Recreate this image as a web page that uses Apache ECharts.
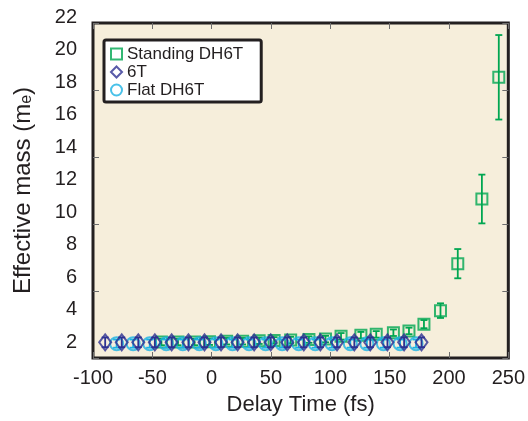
<!DOCTYPE html>
<html><head><meta charset="utf-8">
<script src="https://cdn.jsdelivr.net/npm/echarts@6/dist/echarts.min.js"></script>
<style>html,body{margin:0;padding:0;background:#fff}#c{width:528px;height:421px}</style>
</head><body><div id="c"></div>
<script>
// ---- data ----
const standingX = [-43.8, -30.2, -16.6, -4.3, 9.8, 22.9, 36.5, 48.8, 62.4, 77.4, 91.0, 103.8, 120.1, 132.7, 146.8, 159.6, 171.9, 185.5, 199.7, 219.5, 233.4];
const standingY = [2.0, 2.0, 2.0, 2.02, 2.05, 2.05, 2.08, 2.1, 2.12, 2.15, 2.18, 2.35, 2.42, 2.47, 2.57, 2.68, 3.1, 3.93, 6.82, 10.8, 18.29];
const standingErr = [0.2, 0.2, 0.2, 0.2, 0.2, 0.2, 0.2, 0.2, 0.2, 0.2, 0.2, 0.2, 0.2, 0.2, 0.2, 0.2, 0.25, 0.45, 0.9, 1.5, 2.6];

const t6X = [-90.0, -76.4, -62.8, -49.2, -35.4, -21.6, -8.4, 5.2, 18.8, 32.4, 46.0, 59.6, 73.2, 86.8, 100.5, 114.7, 127.8, 141.9, 155.6, 169.9];
const t6Y = [1.98, 1.98, 1.98, 1.98, 1.98, 1.98, 1.98, 1.98, 1.98, 1.98, 1.98, 1.98, 1.98, 1.98, 1.98, 1.98, 1.98, 1.98, 1.98, 1.98];
const t6Err = [0.3, 0.3, 0.3, 0.3, 0.3, 0.3, 0.3, 0.3, 0.3, 0.3, 0.3, 0.3, 0.3, 0.3, 0.3, 0.3, 0.3, 0.3, 0.3, 0.3];

const flatX = [-80.6, -67.0, -53.4, -39.8, -26.2, -12.6, 1.0, 14.6, 28.2, 41.8, 55.4, 69.0, 82.6, 96.4, 111.4, 125.0, 138.6, 152.3, 165.4];
const flatY = [1.9, 1.9, 1.9, 1.9, 1.9, 1.9, 1.9, 1.9, 1.9, 1.9, 1.9, 1.9, 1.9, 1.9, 1.9, 1.9, 1.9, 1.9, 1.9];
const flatErr = [0.25, 0.25, 0.25, 0.25, 0.25, 0.25, 0.25, 0.25, 0.25, 0.25, 0.25, 0.25, 0.25, 0.25, 0.25, 0.25, 0.25, 0.25, 0.25];

const xMin = -100, xMax = 250, xStep = 50;
const yLabelMin = 2, yLabelMax = 22, yLabelStep = 2;

const names = ['Standing DH6T', '6T', 'Flat DH6T'];
const colors = ['#00a651', '#2e3192', '#1ab2e4'];
const FONT = '"Liberation Sans", Arial, Helvetica, sans-serif';
const INK = '#231f20';

function pairs(xs, ys) { return xs.map((x, i) => [x, ys[i]]); }
function errSeries(xs, ys, errs, color, z) {
  return {
    type: 'custom', xAxisIndex: 1, yAxisIndex: 1, z: z, silent: true, clip: false,
    data: xs.map((x, i) => [x, ys[i] - errs[i], ys[i] + errs[i]]),
    encode: { x: 0, y: [1, 2] },
    renderItem: function (params, api) {
      const lo = api.coord([api.value(0), api.value(1)]);
      const hi = api.coord([api.value(0), api.value(2)]);
      const w = 3.5;
      const st = { stroke: color, lineWidth: 1.8 };
      return { type: 'group', children: [
        { type: 'line', shape: { x1: lo[0], y1: lo[1], x2: hi[0], y2: hi[1] }, style: st },
        { type: 'line', shape: { x1: lo[0] - w, y1: lo[1], x2: lo[0] + w, y2: lo[1] }, style: st },
        { type: 'line', shape: { x1: hi[0] - w, y1: hi[1], x2: hi[0] + w, y2: hi[1] }, style: st }
      ]};
    }
  };
}
function tickStyle() { return { show: true, inside: true, length: 6, lineStyle: { color: '#6d6d6d', width: 1 } }; }

const chart = echarts.init(document.getElementById('c'), null, { renderer: 'canvas' });
chart.setOption({
  animation: false,
  backgroundColor: '#ffffff',
  textStyle: { fontFamily: FONT, color: INK },
  grid: [
    { left: 93, right: 9, top: 23, bottom: 61, show: true, z: 0, backgroundColor: '#f6eedb', borderColor: INK, borderWidth: 3 },
    { left: 93, right: 9, top: 17, bottom: 79, show: false }
  ],
  xAxis: [
    { gridIndex: 0, type: 'value', z: 10, min: xMin, max: xMax, interval: xStep, position: 'bottom',
      axisLine: { show: false, onZero: false }, splitLine: { show: false }, axisTick: tickStyle(),
      axisLabel: { fontSize: 20, color: INK, margin: 10, fontFamily: FONT },
      name: 'Delay Time (fs)', nameLocation: 'middle', nameGap: 36,
      nameTextStyle: { fontSize: 22, color: INK, fontFamily: FONT } },
    { gridIndex: 1, type: 'value', min: xMin, max: xMax, show: false },
    { gridIndex: 0, type: 'value', z: 10, min: xMin, max: xMax, interval: xStep, position: 'top',
      axisLine: { show: false, onZero: false }, splitLine: { show: false }, axisLabel: { show: false },
      axisTick: tickStyle() }
  ],
  yAxis: [
    { gridIndex: 0, type: 'value', z: 10, min: 0, max: 5, interval: 1, position: 'left',
      axisLine: { show: false, onZero: false }, splitLine: { show: false }, axisLabel: { show: false },
      axisTick: tickStyle(),
      name: 'Effective mass (m{sub|e})', nameLocation: 'middle', nameGap: 58, nameRotate: 90,
      nameTextStyle: { fontSize: 24, color: INK, fontFamily: FONT,
        rich: { sub: { fontSize: 16, color: INK, fontFamily: FONT, verticalAlign: 'bottom', padding: [8, 0, 0, 0] } } } },
    { gridIndex: 1, type: 'value', min: yLabelMin, max: yLabelMax, interval: yLabelStep, position: 'left',
      axisLine: { show: false, onZero: false }, axisTick: { show: false }, splitLine: { show: false },
      axisLabel: { fontSize: 20, color: INK, margin: 16, fontFamily: FONT } },
    { gridIndex: 0, type: 'value', z: 10, min: 0, max: 5, interval: 1, position: 'right',
      axisLine: { show: false, onZero: false }, splitLine: { show: false }, axisLabel: { show: false },
      axisTick: tickStyle() }
  ],
  legend: {
    data: names, orient: 'vertical', left: 104, top: 40, z: 20,
    padding: [5, 18, 3, 6], itemGap: 0, itemWidth: 11, itemHeight: 11,
    backgroundColor: '#ffffff', borderColor: INK, borderWidth: 3, borderRadius: 2,
    textStyle: { fontSize: 17, color: INK, fontFamily: FONT, lineHeight: 18 }
  },
  series: [
    errSeries(standingX, standingY, standingErr, colors[0], 2),
    { name: names[0], type: 'scatter', xAxisIndex: 1, yAxisIndex: 1, z: 3, clip: false,
      data: pairs(standingX, standingY), symbol: 'rect', symbolSize: 11,
      itemStyle: { color: 'transparent', borderColor: colors[0], borderWidth: 2 } },
    errSeries(flatX, flatY, flatErr, colors[2], 4),
    { name: names[2], type: 'scatter', xAxisIndex: 1, yAxisIndex: 1, z: 5, clip: false,
      data: pairs(flatX, flatY), symbol: 'circle', symbolSize: 13,
      itemStyle: { color: 'transparent', borderColor: colors[2], borderWidth: 2 } },
    errSeries(t6X, t6Y, t6Err, colors[1], 6),
    { name: names[1], type: 'scatter', xAxisIndex: 1, yAxisIndex: 1, z: 7, clip: false,
      data: pairs(t6X, t6Y), symbol: 'diamond', symbolSize: [12, 16],
      itemStyle: { color: 'transparent', borderColor: colors[1], borderWidth: 2 } }
  ]
});
</script>
</body></html>
